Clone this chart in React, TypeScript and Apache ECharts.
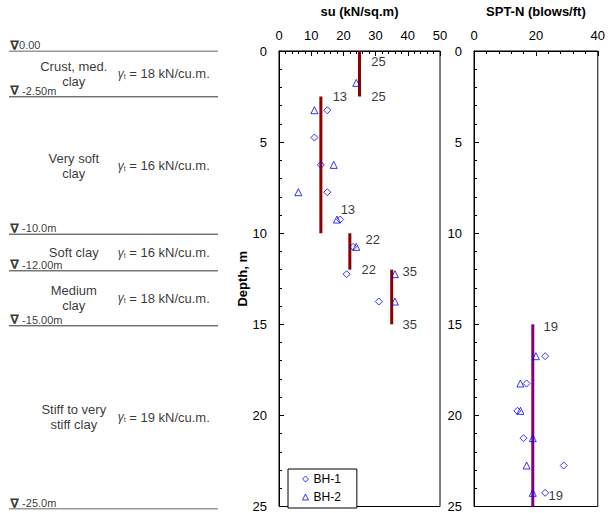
import { useEffect, useRef } from "react";
import * as echarts from "echarts";

const FONT = 'Arial, "Liberation Sans", Helvetica, sans-serif';

// Soil profile
const layerBoundaries = [0, 2.5, 10, 12, 15, 25];
const boundaryLabels = ["0.00", " -2.50m", " -10.0m", " -12.00m", " -15.00m", " -25.0m"];
const layerNames = ["Crust, med.\nclay", "Very soft\nclay", "Soft clay", "Medium\nclay", "Stiff to very\nstiff clay"];
const unitWeights = [18, 16, 16, 18, 19];

// Undrained shear strength su (kN/sq.m) vs depth (m)
const suBH1: [number, number][] = [
  [15, 3.25], [11, 4.75], [13, 6.25], [15, 7.75], [19, 9.25], [23, 10.75], [21, 12.25], [31, 13.75],
];
const suBH2: [number, number][] = [
  [24, 1.75], [11, 3.25], [17, 6.25], [6, 7.75], [18, 9.25], [24, 10.75], [36, 12.25], [36, 13.75],
];
const suDesign = [25, 13, 22, 35];
const suTop = [0, 2.5, 10, 12];
const suBottom = [2.5, 10, 12, 15];

// SPT-N (blows/ft) vs depth (m)
const sptBH1: [number, number][] = [
  [23, 16.75], [17, 18.25], [14, 19.75], [16, 21.25], [29, 22.75], [23, 24.25],
];
const sptBH2: [number, number][] = [
  [20, 16.75], [15, 18.25], [15, 19.75], [19, 21.25], [17, 22.75], [19, 24.25],
];
const sptDesign = [19];
const sptTop = [15];
const sptBottom = [25];

// label offsets (style only): [top label offset, bottom label offset]
const suLabelOffsets = [
  [[19, 10], [19, 0]],
  [[19, 0], [27, -24]],
  [[23, 6], [19, 0]],
  [[18, 2], [18, 0]],
];
const sptLabelOffsets = [[[18, 2], [23, -11]]];

const BLUE = "#0000FF";
const RED = "#8B0000";
const PURPLE = "#800080";

function depthAxis(gridIndex: number, show: boolean, name?: string) {
  return {
    gridIndex,
    type: "value",
    inverse: true,
    min: 0,
    max: 25,
    interval: 5,
    show,
    name,
    nameLocation: "middle",
    nameGap: 30,
    nameTextStyle: { fontWeight: "bold", fontSize: 13, color: "#000", fontFamily: FONT },
    axisLine: { show: true, onZero: false, lineStyle: { color: "#000", width: 1 } },
    axisTick: { show: true, inside: true, length: 5, lineStyle: { color: "#000" } },
    minorTick: { show: true, splitNumber: 5, length: 3, lineStyle: { color: "#000" } },
    axisLabel: { color: "#000", fontSize: 13, fontFamily: FONT, margin: 12 },
    splitLine: { show: false },
  };
}

function topAxis(gridIndex: number, max: number, interval: number, minorSplit: number, name: string) {
  return {
    gridIndex,
    type: "value",
    position: "top",
    min: 0,
    max,
    interval,
    name,
    nameLocation: "middle",
    nameGap: 33,
    nameTextStyle: { fontWeight: "bold", fontSize: 13, color: "#000", fontFamily: FONT },
    axisLine: { show: true, onZero: false, lineStyle: { color: "#000", width: 1 } },
    axisTick: { show: true, inside: true, length: 5, lineStyle: { color: "#000" } },
    minorTick: { show: true, splitNumber: minorSplit, length: 3, lineStyle: { color: "#000" } },
    axisLabel: { color: "#000", fontSize: 13, fontFamily: FONT, margin: 9 },
    splitLine: { show: false },
  };
}

function segmentSeries(
  values: number[], tops: number[], bottoms: number[], offsets: number[][][],
  xAxisIndex: number, yAxisIndex: number, color: string
) {
  const out: any[] = [];
  values.forEach((v, i) => {
    out.push({
      type: "line",
      xAxisIndex,
      yAxisIndex,
      data: [[v, tops[i]], [v, bottoms[i]]],
      symbol: "none",
      silent: true,
      lineStyle: { color, width: 3 },
      z: 1,
    });
    out.push({
      type: "scatter",
      xAxisIndex,
      yAxisIndex,
      silent: true,
      symbolSize: 0,
      data: [[v, tops[i]], [v, bottoms[i]]].map((d, k) => ({
        value: d,
        label: {
          show: true,
          position: "inside",
          offset: offsets[i][k],
          formatter: String(v),
          color: "#000",
          fontSize: 13,
          fontFamily: FONT,
        },
      })),
    });
  });
  return out;
}

function pointSeries(name: string, symbol: string, data: [number, number][], xAxisIndex: number, yAxisIndex: number) {
  return {
    name,
    type: "scatter",
    xAxisIndex,
    yAxisIndex,
    symbol,
    symbolSize: 7,
    data,
    itemStyle: { color: "rgba(255,255,255,0)", borderColor: BLUE, borderWidth: 1 },
    z: 5,
  };
}

export default function App() {
  const ref = useRef<HTMLDivElement>(null);
  useEffect(() => {
    if (!ref.current) return;
    const chart = echarts.init(ref.current, undefined, { renderer: "svg" });

    const boundaryLines = layerBoundaries.map((d) => ({
      type: "line",
      xAxisIndex: 0,
      yAxisIndex: 0,
      data: [[0, d], [1, d]],
      symbol: "none",
      silent: true,
      lineStyle: { color: "#333", width: 1 },
    }));

    const legendIcon = { color: "#fff", borderColor: BLUE, borderWidth: 1 };

    const option: any = {
      animation: false,
      textStyle: { fontFamily: FONT },
      grid: [
        { left: 9, top: 51, width: 209, height: 458, show: false },
        { left: 279, top: 51, width: 161, height: 458, show: true, borderColor: "#000", borderWidth: 1, backgroundColor: "transparent" },
        { left: 474, top: 51, width: 130, height: 458, show: true, borderColor: "#000", borderWidth: 1, backgroundColor: "transparent" },
      ],
      xAxis: [
        { gridIndex: 0, type: "value", min: 0, max: 1, show: false },
        topAxis(1, 50, 10, 5, "su (kN/sq.m)"),
        topAxis(2, 40, 20, 5, "SPT-N (blows/ft)"),
      ],
      yAxis: [
        { gridIndex: 0, type: "value", inverse: true, min: 0, max: 25, show: false },
        depthAxis(1, true, "Depth, m"),
        depthAxis(2, true),
      ],
      legend: {
        data: [
          { name: "BH-1", icon: "diamond", itemStyle: legendIcon },
          { name: "BH-2", icon: "triangle", itemStyle: legendIcon },
        ],
        orient: "vertical",
        left: 288,
        top: 469,
        padding: [4, 16, 5, 14],
        itemGap: 6,
        itemWidth: 6,
        itemHeight: 6,
        borderColor: "#000",
        borderWidth: 1,
        backgroundColor: "#fff",
        textStyle: { fontSize: 12, color: "#000", fontFamily: FONT },
      },
      series: [
        ...boundaryLines,
        {
          type: "scatter",
          xAxisIndex: 0,
          yAxisIndex: 0,
          silent: true,
          symbolSize: 0,
          data: layerBoundaries.map((d) => [0, d]),
          label: {
            show: true,
            position: "right",
            distance: 1,
            offset: [0, -6],
            formatter: (p: any) => `{t|∇}{n|${boundaryLabels[p.dataIndex]}}`,
            rich: {
              t: { fontSize: 13, fontWeight: "bold", color: "#000", fontFamily: '"DejaVu Sans", sans-serif' },
              n: { fontSize: 11, color: "#000", fontFamily: FONT },
            },
          },
        },
        {
          type: "scatter",
          xAxisIndex: 0,
          yAxisIndex: 0,
          silent: true,
          symbolSize: 0,
          data: layerNames.map((_, i) => [0.31, (layerBoundaries[i] + layerBoundaries[i + 1]) / 2]),
          label: {
            show: true,
            position: "inside",
            formatter: (p: any) => layerNames[p.dataIndex],
            align: "center",
            fontSize: 13,
            lineHeight: 15,
            color: "#000",
            fontFamily: FONT,
          },
        },
        {
          type: "scatter",
          xAxisIndex: 0,
          yAxisIndex: 0,
          silent: true,
          symbolSize: 0,
          data: unitWeights.map((_, i) => [0.52, (layerBoundaries[i] + layerBoundaries[i + 1]) / 2]),
          label: {
            show: true,
            position: "right",
            distance: 0,
            formatter: (p: any) => `{g|γ}{s|t}{m| = ${unitWeights[p.dataIndex]} kN/cu.m.}`,
            rich: {
              g: { fontSize: 12, fontStyle: "italic", color: "#000", fontFamily: FONT },
              s: { fontSize: 7, color: "#000", fontFamily: FONT, padding: [5, 0, 0, 0] },
              m: { fontSize: 13, color: "#000", fontFamily: FONT },
            },
          },
        },
        ...segmentSeries(suDesign, suTop, suBottom, suLabelOffsets, 1, 1, RED),
        ...segmentSeries(sptDesign, sptTop, sptBottom, sptLabelOffsets, 2, 2, PURPLE),
        pointSeries("BH-1", "diamond", suBH1, 1, 1),
        pointSeries("BH-2", "triangle", suBH2, 1, 1),
        pointSeries("BH-1", "diamond", sptBH1, 2, 2),
        pointSeries("BH-2", "triangle", sptBH2, 2, 2),
      ],
    };
    chart.setOption(option);
    return () => chart.dispose();
  }, []);
  return (
    <div
      ref={ref}
      style={{ position: "absolute", left: 0, top: 0, width: 608, height: 513, background: "#fff" }}
    />
  );
}
